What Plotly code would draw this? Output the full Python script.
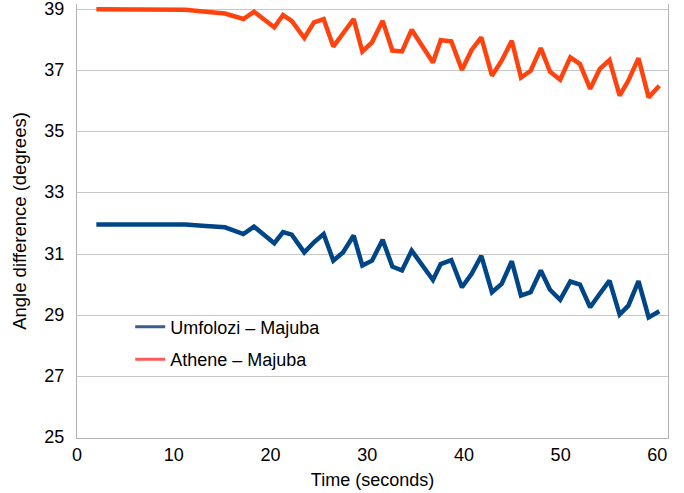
import plotly.graph_objects as go

time_s = [2, 11.2, 13.3, 15.3, 17.2, 18.3, 20.4, 21.3, 22.2, 23.5, 24.5, 25.5, 26.5, 27.5,
          28.6, 29.5, 30.5, 31.6, 32.6, 33.6, 34.6, 36.8, 37.6, 38.7, 39.8, 40.8, 41.8,
          42.9, 43.9, 44.95, 45.9, 46.9, 47.95, 48.9, 49.95, 51, 52, 53.05, 54.05, 55.05,
          56.1, 57, 58.05, 59.1, 60.2]

athene_majuba = [39.0, 38.98, 38.92, 38.86, 38.68, 38.92, 38.41, 38.81, 38.62, 38.06, 38.57,
                 38.68, 37.78, 38.23, 38.68, 37.62, 37.92, 38.62, 37.65, 37.62, 38.33, 37.26,
                 37.99, 37.95, 37.02, 37.67, 38.08, 36.83, 37.32, 37.97, 36.77, 36.99, 37.73,
                 36.96, 36.70, 37.43, 37.21, 36.40, 37.05, 37.34, 36.18, 36.67, 37.40, 36.12,
                 36.50]

umfolozi_majuba = [31.97, 31.97, 31.92, 31.88, 31.66, 31.90, 31.36, 31.72, 31.64, 31.06, 31.39,
                   31.66, 30.79, 31.06, 31.61, 30.63, 30.79, 31.47, 30.60, 30.47, 31.12, 30.16,
                   30.68, 30.81, 29.92, 30.36, 30.95, 29.76, 30.03, 30.77, 29.65, 29.76, 30.47,
                   29.84, 29.51, 30.11, 30.01, 29.27, 29.71, 30.14, 29.03, 29.32, 30.12, 28.94,
                   29.14]

series_names = ["Umfolozi \u2013 Majuba", "Athene \u2013 Majuba"]
x_ticks = [0, 10, 20, 30, 40, 50, 60]
y_ticks = [25, 27, 29, 31, 33, 35, 37, 39]

BLUE = "#004586"
ORANGE = "#FF420E"
FONT = "Liberation Sans, Arial, sans-serif"

fig = go.Figure()
fig.add_trace(go.Scatter(x=time_s, y=umfolozi_majuba, mode="lines", showlegend=False,
                         line=dict(color=BLUE, width=4.5), hoverinfo="skip"))
fig.add_trace(go.Scatter(x=time_s, y=athene_majuba, mode="lines", showlegend=False,
                         line=dict(color=ORANGE, width=4.5), hoverinfo="skip"))
# legend entries
fig.add_trace(go.Scatter(x=[None], y=[None], mode="lines", name=series_names[0],
                         legendgroup="a", line=dict(color="#3B5C8C", width=3)))
fig.add_trace(go.Scatter(x=[None], y=[None], mode="lines", name=series_names[1],
                         legendgroup="b", line=dict(color="#FF5A5A", width=3)))

fig.update_layout(
    width=684, height=493,
    margin=dict(l=77, r=16, t=4, b=55),
    paper_bgcolor="white", plot_bgcolor="white",
    font=dict(family=FONT, size=18, color="#000000"),
    legend=dict(x=0.09, y=0.298, xanchor="left", yanchor="top",
                bgcolor="rgba(0,0,0,0)", font=dict(size=18),
                tracegroupgap=6, traceorder="grouped"),
    xaxis=dict(range=[0, 61.1], tickvals=x_ticks, showgrid=False, zeroline=False,
               showline=True, linecolor="#B3B3B3", linewidth=1, ticks="",
               tickfont=dict(size=18), automargin=False,
               title=dict(text="Time (seconds)", standoff=9, font=dict(size=18))),
    yaxis=dict(range=[25, 39.17], tickvals=y_ticks, showgrid=True, gridcolor="#C8C8C8",
               gridwidth=1, zeroline=False, showline=True, mirror=True,
               linecolor="#B3B3B3", linewidth=1, ticks="", ticklabelstandoff=8,
               ticklabeloverflow="allow", ticklabelshift=-1, automargin=False,
               tickfont=dict(size=18),
               title=dict(text="Angle difference (degrees)", standoff=12, font=dict(size=18.5))),
)

fig.write_html("out.html")
